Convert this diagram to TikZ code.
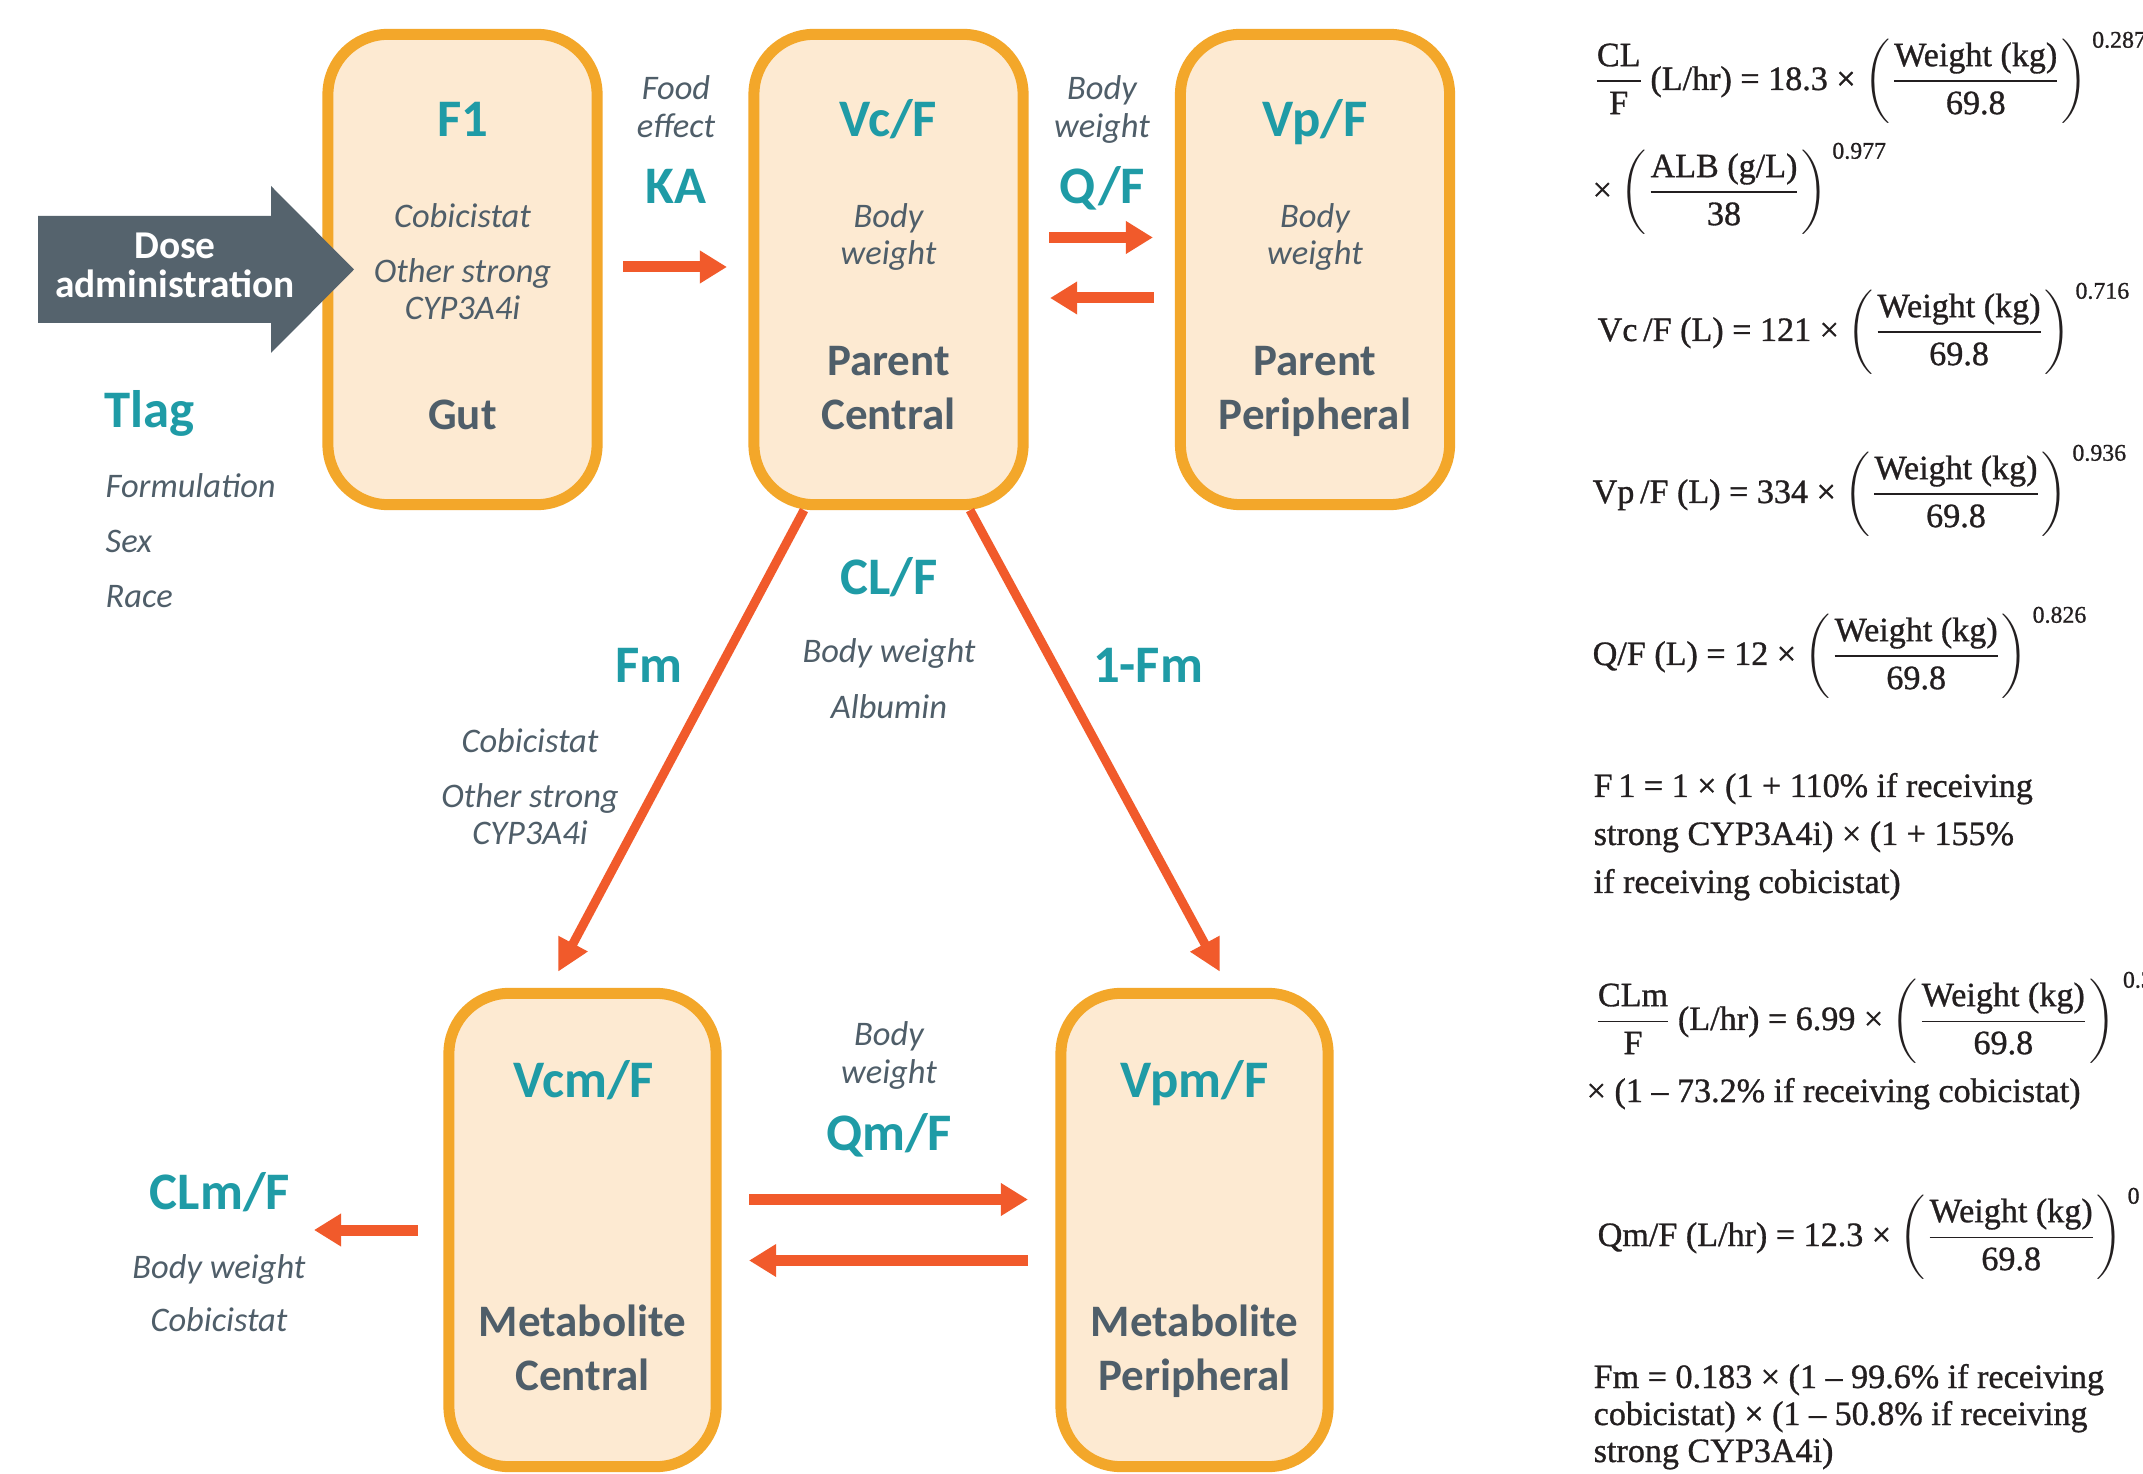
\documentclass[tikz,border=0pt]{standalone}
\usepackage{fontspec}
\usepackage{amsmath}
\usetikzlibrary{arrows.meta,calc}
\newfontfamily\carlito{Carlito}
\newfontfamily\eqf[FakeBold=0.9]{Liberation Serif}
\definecolor{boxline}{RGB}{243,167,42}
\definecolor{boxfill}{RGB}{253,234,210}
\definecolor{tealc}{RGB}{31,155,166}
\definecolor{slate}{RGB}{79,94,105}
\definecolor{arrowc}{RGB}{241,90,43}
\definecolor{dosec}{RGB}{85,99,109}
\definecolor{eqc}{RGB}{35,31,32}
\tikzset{
  comp/.style={draw=boxline, fill=boxfill, line width=0.11cm, rounded corners=0.6cm,
    minimum width=2.69cm, minimum height=4.70cm, inner sep=0pt},
  compb/.style={comp, minimum width=2.67cm, minimum height=4.73cm},
  tealbig/.style={text=tealc, font=\carlito\bfseries\fontsize{15}{17}\selectfont, inner sep=0pt, anchor=base},
  greybig/.style={text=slate, font=\carlito\bfseries\fontsize{12.8}{15}\selectfont, inner sep=0pt, anchor=base},
  cov/.style={text=slate, font=\carlito\itshape\fontsize{9.8}{11}\selectfont, inner sep=0pt, anchor=base},
  dosetext/.style={text=white, font=\carlito\bfseries\fontsize{11.2}{12}\selectfont, inner sep=0pt, anchor=base},
  flow/.style={draw=arrowc, line width=0.11cm, -{Triangle[length=0.27cm,width=0.31cm]}},
  diag/.style={draw=arrowc, line width=0.09cm, -{Triangle[length=0.32cm,width=0.31cm]}},
  eq/.style={inner sep=0pt, anchor=base west, text=eqc, font=\eqf\fontsize{9.7}{11}\selectfont},
}
\begin{document}
\begin{tikzpicture}[x=0.01cm, y=-0.01cm]
\useasboundingbox (0,0) rectangle (2143,1474);
\fill[white] (0,0) rectangle (2143,1474);
\clip (0,0) rectangle (2143,1474);

% compartments
\node[comp] (gut) at (462.5,269.5) {};
\node[comp] (vc) at (888.5,269.5) {};
\node[comp] (vp) at (1315,269.5) {};
\node[compb] (vcm) at (582.5,1230) {};
\node[compb] (vpm) at (1194.5,1230) {};

% dose arrow
\draw[fill=dosec, draw=none] (38,216) -- (271,216) -- (271,186) -- (354,269.5) -- (271,353) -- (271,323) -- (38,323) -- cycle;
\node[dosetext] (dose1) at (175,259) {Dose};
\node[dosetext] (dose2) at (175,298) {administration};

% gut box texts
\node[tealbig] (f1) at (462.5,137) {F1};
\node[cov] (gcob) at (462.5,228) {Cobicistat};
\node[cov] (goth) at (462.5,283) {Other strong};
\node[cov] (gcyp) at (462.5,320) {CYP3A4i};
\node[greybig] (gutl) at (462.5,430) {Gut};

% Tlag
\node[tealbig, anchor=base west] (tlag) at (104,428) {Tlag};
\node[cov, anchor=base west] (form) at (105,498) {Formulation};
\node[cov, anchor=base west] (sex) at (105,553) {Sex};
\node[cov, anchor=base west] (race) at (105,608) {Race};

% KA
\node[cov] (food) at (676,100) {Food};
\node[cov] (effect) at (676,138) {effect};
\node[tealbig] (ka) at (676,204) {KA};
\draw[flow] ($(gut.east)+(20.5,-2.5)$) -- ($(vc.west)+(-21.5,-2.5)$);

% Vc box
\node[tealbig] (vcf) at (888.5,137) {Vc/F};
\node[cov] (vcb) at (888.5,228) {Body};
\node[cov] (vcw) at (888.5,265) {weight};
\node[greybig] (vcp) at (888.5,376) {Parent};
\node[greybig] (vcc) at (888.5,430) {Central};

% Q/F
\node[cov] (qb) at (1102,100) {Body};
\node[cov] (qw) at (1102,138) {weight};
\node[tealbig] (qf) at (1102,204) {Q/F};
\draw[flow] ($(vc.east)+(20.5,-32)$) -- ($(vp.west)+(-22,-32)$);
\draw[flow] ($(vp.west)+(-21,28.5)$) -- ($(vc.east)+(21.5,28.5)$);

% Vp box
\node[tealbig] (vpf) at (1315,137) {Vp/F};
\node[cov] (vpb) at (1315,228) {Body};
\node[cov] (vpw) at (1315,265) {weight};
\node[greybig] (vpp) at (1315,376) {Parent};
\node[greybig] (vpper) at (1315,430) {Peripheral};

% CL/F
\node[tealbig] (clf) at (889,595) {CL/F};
\node[cov] (clbw) at (889,663) {Body weight};
\node[cov] (clalb) at (889,719) {Albumin};

% Fm arrows
\draw[diag] ($(vc.south)+(-84.5,0)$) -- ($(vcm.north)+(-24.5,-16)$);
\draw[diag] ($(vc.south)+(81.5,0)$) -- ($(vpm.north)+(25.5,-16)$);
\node[tealbig] (fm) at (649,683) {Fm};
\node[tealbig] (onefm) at (1148,683) {1-Fm};
\node[cov] (fcob) at (530,753) {Cobicistat};
\node[cov] (foth) at (530,808) {Other strong};
\node[cov] (fcyp) at (530,845) {CYP3A4i};

% Vcm box
\node[tealbig] (vcmf) at (584,1097) {Vcm/F};
\node[greybig] (vcmm) at (582.5,1336) {Metabolite};
\node[greybig] (vcmc) at (582.5,1390) {Central};

% Vpm box
\node[tealbig] (vpmf) at (1194.5,1097) {Vpm/F};
\node[greybig] (vpmm) at (1194.5,1336) {Metabolite};
\node[greybig] (vpmp) at (1194.5,1390) {Peripheral};

% Qm/F
\node[cov] (qmb) at (889,1045) {Body};
\node[cov] (qmw) at (889,1083) {weight};
\node[tealbig] (qmf) at (889,1150) {Qm/F};
\draw[flow] ($(vcm.east)+(27.5,-30.5)$) -- ($(vpm.west)+(-27.5,-30.5)$);
\draw[flow] ($(vpm.west)+(-27.5,30.5)$) -- ($(vcm.east)+(27.5,30.5)$);

% CLm/F
\coordinate (clmend) at (314,1230);
\draw[flow] ($(vcm.west)+(-25.5,0)$) -- (clmend);
\node[tealbig] (clmf) at (220,1209) {CLm/F};
\node[cov] (clmbw) at (219,1278) {Body weight};
\node[cov] (clmcob) at (219,1331) {Cobicistat};

% equations
\node[eq] (e1) at (1592,90) {$\dfrac{\text{CL}}{\text{F}}$\,(L/hr) = 18.3 × $\left(\dfrac{\text{Weight (kg)}}{\text{69.8}}\right)^{\,\text{0.287}}$};
\node[eq] (e1b) at (1592,201) {× $\left(\dfrac{\text{ALB (g/L)}}{\text{38}}\right)^{\,\text{0.977}}$};
\node[eq] (e2) at (1597,341) {Vc\,/F (L) = 121 × $\left(\dfrac{\text{Weight (kg)}}{\text{69.8}}\right)^{\,\text{0.716}}$};
\node[eq] (e3) at (1592,503) {Vp\,/F (L) = 334 × $\left(\dfrac{\text{Weight (kg)}}{\text{69.8}}\right)^{\,\text{0.936}}$};
\node[eq] (e4) at (1592,665) {Q/F (L) = 12 × $\left(\dfrac{\text{Weight (kg)}}{\text{69.8}}\right)^{\,\text{0.826}}$};
\node[eq] (e5a) at (1593,797) {F\,1 = 1 × (1 + 110\% if receiving};
\node[eq] (e5b) at (1593,845) {strong CYP3A4i) × (1 + 155\%};
\node[eq] (e5c) at (1593,893) {if receiving cobicistat)};
\node[eq] (e6) at (1593,1030) {$\dfrac{\text{CLm}}{\text{F}}$\,(L/hr) = 6.99 × $\left(\dfrac{\text{Weight (kg)}}{\text{69.8}}\right)^{\;\text{0.3}}$};
\node[eq] (e6b) at (1586,1102) {× (1 – 73.2\% if receiving cobicistat)};
\node[eq] (e7) at (1597,1246) {Qm/F (L/hr) = 12.3 × $\left(\dfrac{\text{Weight (kg)}}{\text{69.8}}\right)^{\,\text{0}}$};
\node[eq] (e8a) at (1593,1388) {Fm = 0.183 × (1 – 99.6\% if receiving};
\node[eq] (e8b) at (1593,1425) {cobicistat) × (1 – 50.8\% if receiving};
\node[eq] (e8c) at (1593,1462) {strong CYP3A4i)};
\end{tikzpicture}
\end{document}
